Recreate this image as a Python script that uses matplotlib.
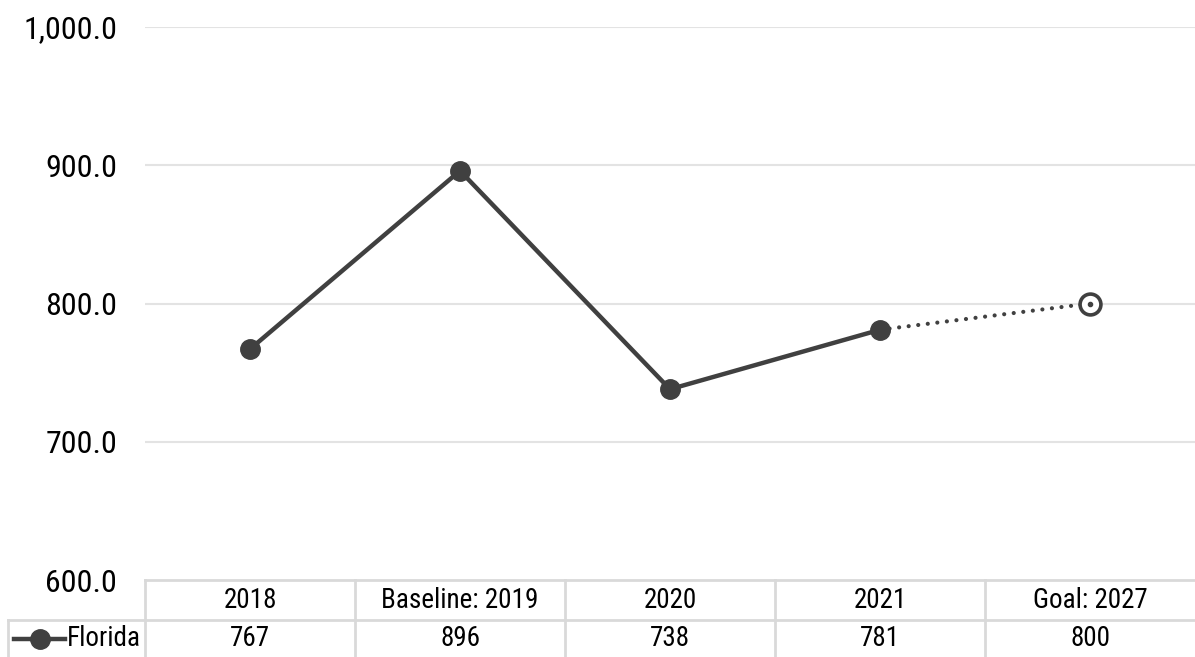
import matplotlib.pyplot as plt
from matplotlib.transforms import blended_transform_factory
from matplotlib.lines import Line2D

plt.rcParams['font.family'] = ['Liberation Sans Narrow', 'Roboto Condensed', 'Archivo Narrow',
                               'Liberation Sans', 'DejaVu Sans']

# data
categories = ['2018', 'Baseline: 2019', '2020', '2021', 'Goal: 2027']
values = [767, 896, 738, 781, 800]
series_name = 'Florida'
yticks = [600, 700, 800, 900, 1000]

line_col = '#404040'
grid_col = '#e3e3e3'
tab_col = '#d9d9d9'

W, H = 1195, 657
fig = plt.figure(figsize=(W / 100, H / 100), dpi=100)
ax_l, ax_r, ax_b, ax_t = 145, 1195, 580, 27
ax = fig.add_axes([ax_l / W, (H - ax_b) / H, (ax_r - ax_l) / W, (ax_b - ax_t) / H])

x = list(range(len(categories)))
ax.set_xlim(-0.5, len(categories) - 0.5)
ax.set_ylim(600, 1000)

for v in yticks[1:]:
    ax.axhline(v, color=grid_col, lw=1.5, zorder=0)

# actual values (solid), goal (dotted)
ax.plot(x[:4], values[:4], color=line_col, lw=3.2, marker='o', ms=14,
        mfc=line_col, mec=line_col, zorder=3, clip_on=False)
ax.plot(x[3:], values[3:], color=line_col, lw=3, linestyle=(0, (0.01, 2.3)),
        dash_capstyle='round', zorder=2)
ax.plot(x[4], values[4], marker='o', ms=15, mfc='white', mec=line_col, mew=2.6, zorder=4)
ax.plot(x[4], values[4], marker='o', ms=3, mfc=line_col, mec=line_col, zorder=5)

ax.set_yticks(yticks)
ax.set_yticklabels([f'{v:,.1f}' for v in yticks])
ax.tick_params(axis='y', length=0, pad=20, labelsize=23, labelcolor='#000000')
ax.set_xticks([])
for s in ax.spines.values():
    s.set_visible(False)

# data table
tr = blended_transform_factory(ax.transData, ax.transAxes)
h = ax_b - ax_t
y_top, y_mid, y_bot = 0, -(620 - ax_b) / h, -(H - ax_b) / h
x_hdr = -0.5 + (8 - ax_l) / 210

def tline(xs, ys):
    ax.add_line(Line2D(xs, ys, transform=tr, color=tab_col, lw=2, clip_on=False))

tline([-0.5, 4.5], [y_top, y_top])
tline([x_hdr, 4.5], [y_mid, y_mid])
tline([x_hdr, x_hdr], [y_mid, y_bot])
for i in range(len(categories)):
    tline([i - 0.5, i - 0.5], [y_top, y_bot])
    ax.text(i, (y_top + y_mid) / 2, categories[i], transform=tr, ha='center',
            va='center', fontsize=19.5)
    ax.text(i, (y_mid + y_bot) / 2, f'{values[i]:.0f}', transform=tr, ha='center',
            va='center', fontsize=19.5)

# legend key in the row header
yk = (y_mid + y_bot) / 2
kx0, kx1 = -0.5 + (14 - ax_l) / 210, -0.5 + (65 - ax_l) / 210
ax.add_line(Line2D([kx0, kx1], [yk, yk], transform=tr, color=line_col, lw=3.2, clip_on=False))
ax.add_line(Line2D([(kx0 + kx1) / 2], [yk], transform=tr, color=line_col, marker='o',
                   ms=14, clip_on=False))
ax.text(-0.5 + (67 - ax_l) / 210, yk, series_name, transform=tr, ha='left',
        va='center', fontsize=19.5)

fig.savefig('out.png', dpi=100)
